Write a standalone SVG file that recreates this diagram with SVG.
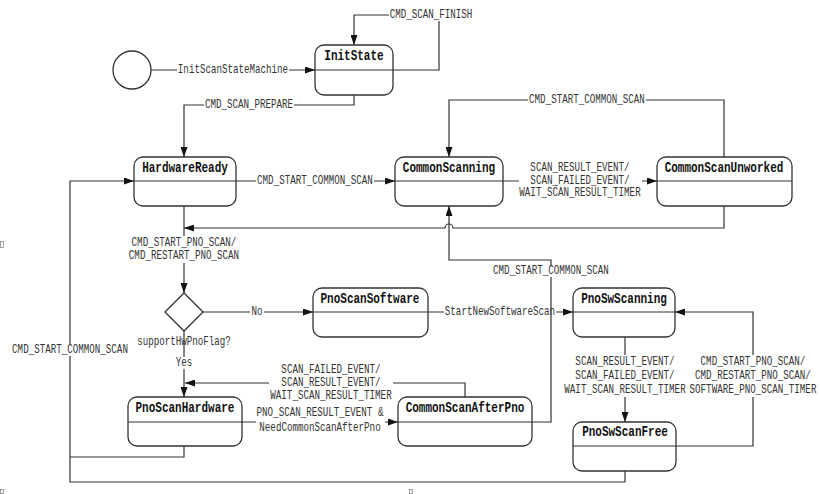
<svg xmlns="http://www.w3.org/2000/svg" width="820" height="494" viewBox="0 0 820 494">
<style>
.box{fill:#fff;stroke:#333;stroke-width:1.3}
.div{stroke:#333;stroke-width:1.2;fill:none}
.t{font-family:"Liberation Mono",monospace;font-weight:bold;font-size:11px;fill:#111;text-anchor:middle;dominant-baseline:central;transform-box:fill-box;transform-origin:center;transform:scaleY(1.25)}
.e{fill:none;stroke:#333;stroke-width:1.2}
.a{marker-end:url(#arr)}
.l{font-family:"Liberation Mono",monospace;font-size:9.2px;fill:#333;text-anchor:middle;dominant-baseline:central;transform-box:fill-box;transform-origin:center;transform:scaleY(1.3)}
.bg{fill:#fff}
.sq{fill:none;stroke:#888;stroke-width:0.8}
</style>
<defs>
<marker id="arr" markerWidth="10" markerHeight="7" refX="10" refY="3.5" orient="auto" markerUnits="userSpaceOnUse">
<path d="M0,0 L10,3.5 L0,7 z" fill="#111"/>
</marker>
</defs>
<rect width="820" height="494" fill="#fff"/>

<g id="start"><circle cx="132" cy="70" r="19" class="box"/></g>
<g id="InitState"><rect x="315" y="45" width="78" height="50" rx="9" class="box"/><line x1="315" y1="70" x2="393" y2="70" class="div"/><text x="354" y="57" class="t">InitState</text></g>
<g id="HardwareReady"><rect x="134" y="157" width="102" height="49" rx="9" class="box"/><line x1="134" y1="181" x2="236" y2="181" class="div"/><text x="185" y="169" class="t">HardwareReady</text></g>
<g id="CommonScanning"><rect x="395" y="157" width="108" height="49" rx="9" class="box"/><line x1="395" y1="181" x2="503" y2="181" class="div"/><text x="449" y="169" class="t">CommonScanning</text></g>
<g id="CommonScanUnworked"><rect x="657" y="157" width="135" height="49" rx="9" class="box"/><line x1="657" y1="181" x2="792" y2="181" class="div"/><text x="724" y="169" class="t">CommonScanUnworked</text></g>
<g id="supportHwPnoFlag"><path d="M184,293 L203,312 L184,331 L165,312 z" class="box"/><text x="184" y="342" class="l">supportHwPnoFlag?</text></g>
<g id="PnoScanSoftware"><rect x="313" y="288" width="115" height="49" rx="9" class="box"/><line x1="313" y1="312" x2="428" y2="312" class="div"/><text x="370" y="300" class="t">PnoScanSoftware</text></g>
<g id="PnoSwScanning"><rect x="573" y="288" width="102" height="49" rx="9" class="box"/><line x1="573" y1="312" x2="675" y2="312" class="div"/><text x="624" y="300" class="t">PnoSwScanning</text></g>
<g id="PnoSwScanFree"><rect x="573" y="422" width="103" height="49" rx="9" class="box"/><line x1="573" y1="446" x2="676" y2="446" class="div"/><text x="625" y="433" class="t">PnoSwScanFree</text></g>
<g id="PnoScanHardware"><rect x="128" y="397" width="114" height="49" rx="9" class="box"/><line x1="128" y1="422" x2="242" y2="422" class="div"/><text x="185" y="409" class="t">PnoScanHardware</text></g>
<g id="CommonScanAfterPno"><rect x="398" y="397" width="134" height="49" rx="9" class="box"/><line x1="398" y1="422" x2="532" y2="422" class="div"/><text x="465" y="409" class="t">CommonScanAfterPno</text></g>

<g id="connectors">
<path d="M151,70 H315" class="e a"/>
<rect x="177" y="64" width="112" height="12" class="bg"/><text x="233" y="70" class="l">InitScanStateMachine</text>

<path d="M393,70 H439 V15 H354 V45" class="e a"/>
<rect x="389" y="9" width="85" height="12" class="bg"/><text x="431" y="15" class="l">CMD_SCAN_FINISH</text>

<path d="M354,95 V105 H184 V157" class="e a"/>
<rect x="204" y="99" width="90" height="12" class="bg"/><text x="249" y="105" class="l">CMD_SCAN_PREPARE</text>

<path d="M236,181 H395" class="e a"/>
<rect x="256" y="175" width="118" height="12" class="bg"/><text x="315" y="181" class="l">CMD_START_COMMON_SCAN</text>

<path d="M503,181 H657" class="e a"/>
<rect x="519" y="161" width="123" height="39" class="bg"/>
<text x="580" y="168" class="l">SCAN_RESULT_EVENT/</text>
<text x="580" y="180.5" class="l">SCAN_FAILED_EVENT/</text>
<text x="580" y="193" class="l">WAIT_SCAN_RESULT_TIMER</text>

<path d="M724,157 V100 H449 V157" class="e a"/>
<rect x="528" y="94" width="118" height="12" class="bg"/><text x="587" y="100" class="l">CMD_START_COMMON_SCAN</text>

<path d="M724,206 V228 H453 A4,4 0 0 0 445,228 H184" class="e a"/>

<path d="M184,206 V293" class="e a"/>
<rect x="128" y="236" width="112" height="27" class="bg"/>
<text x="184" y="243" class="l">CMD_START_PNO_SCAN/</text>
<text x="184" y="256" class="l">CMD_RESTART_PNO_SCAN</text>

<path d="M203,312 H313" class="e a"/>
<rect x="250" y="306" width="14" height="12" class="bg"/><text x="257" y="312" class="l">No</text>

<path d="M184,331 V397" class="e a"/>
<rect x="174" y="357" width="20" height="12" class="bg"/><text x="184" y="363" class="l">Yes</text>

<path d="M428,312 H573" class="e a"/>
<rect x="444" y="306" width="112" height="12" class="bg"/><text x="500" y="312" class="l">StartNewSoftwareScan</text>

<path d="M625,337 V422" class="e a"/>
<rect x="563" y="355" width="124" height="42" class="bg"/>
<text x="625" y="362" class="l">SCAN_RESULT_EVENT/</text>
<text x="625" y="376" class="l">SCAN_FAILED_EVENT/</text>
<text x="625" y="390" class="l">WAIT_SCAN_RESULT_TIMER</text>

<path d="M676,446 H753 V312 H675" class="e a"/>
<rect x="689" y="355" width="129" height="42" class="bg"/>
<text x="753" y="362" class="l">CMD_START_PNO_SCAN/</text>
<text x="753" y="376" class="l">CMD_RESTART_PNO_SCAN/</text>
<text x="753" y="390" class="l">SOFTWARE_PNO_SCAN_TIMER</text>

<path d="M625,471 V482 H70 V181 H134" class="e a"/>
<path d="M184,446 V457 H70" class="e"/>
<rect x="11" y="344" width="118" height="12" class="bg"/><text x="70" y="350" class="l">CMD_START_COMMON_SCAN</text>

<path d="M242,422 H398" class="e a"/>
<rect x="256" y="406" width="129" height="29" class="bg"/>
<text x="320" y="413" class="l">PNO_SCAN_RESULT_EVENT &amp;</text>
<text x="320" y="428" class="l">NeedCommonScanAfterPno</text>

<path d="M465,397 V383 H185" class="e a"/>
<rect x="269" y="363" width="124" height="39" class="bg"/>
<text x="331" y="370" class="l">SCAN_FAILED_EVENT/</text>
<text x="331" y="383" class="l">SCAN_RESULT_EVENT/</text>
<text x="331" y="396" class="l">WAIT_SCAN_RESULT_TIMER</text>

<path d="M532,422 H551 V260 H449 V206" class="e a"/>
<rect x="492" y="265" width="118" height="12" class="bg"/><text x="551" y="271" class="l">CMD_START_COMMON_SCAN</text>
</g>

<rect x="0.5" y="241.5" width="3" height="6" class="sq"/>
<rect x="0.5" y="489.5" width="3" height="4" class="sq"/>
<rect x="409.5" y="489.5" width="3" height="4" class="sq"/>
</svg>
